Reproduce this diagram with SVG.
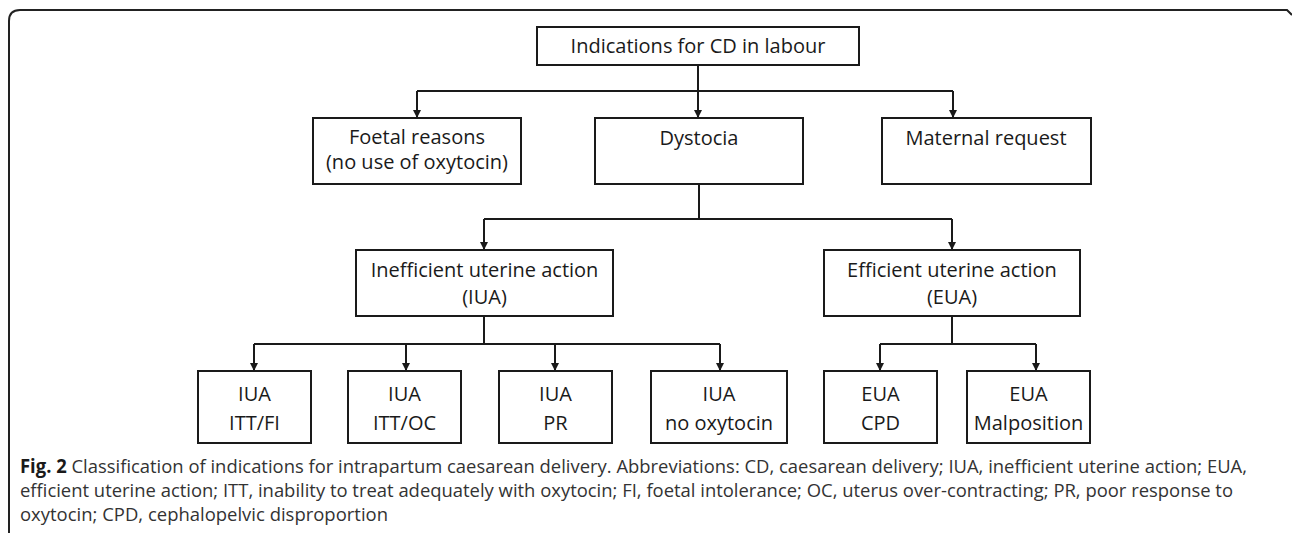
<svg xmlns="http://www.w3.org/2000/svg" width="1292" height="533" viewBox="0 0 1292 533">
<defs>
<marker id="arr" viewBox="0 0 10 10" refX="10" refY="5" markerWidth="8" markerHeight="8" markerUnits="userSpaceOnUse" orient="auto">
<path d="M0,0 L10,5 L0,10 Z" fill="#1a1a1a"/>
</marker>
<style>
.box{fill:#fff;stroke:#1a1a1a;stroke-width:2}
.t{font-family:"Open Sans","Noto Sans",sans-serif;font-size:20px;fill:#1a1a1a;text-anchor:middle}
.c{stroke:#1a1a1a;stroke-width:2;fill:none}
.a{marker-end:url(#arr)}
.cap{font-family:"Open Sans","Noto Sans",sans-serif;font-size:19px;fill:#333}
</style>
</defs>
<rect width="1292" height="533" fill="#fff"/>
<path d="M9,533 L9,21 Q9,10 20,10 L1287,10 L1292,15" fill="none" stroke="#222" stroke-width="2"/>
<g id="connectors">
<path class="c a" d="M698,65 V118"/>
<path class="c" d="M417,91 H953"/>
<path class="c a" d="M417,91 V118"/>
<path class="c a" d="M953,91 V118"/>
<path class="c" d="M699,184 V219 M484,219 H952"/>
<path class="c a" d="M484,219 V250"/>
<path class="c a" d="M952,219 V250"/>
<path class="c" d="M484,316 V344 M254,344 H720"/>
<path class="c a" d="M254,344 V371"/>
<path class="c a" d="M406,344 V371"/>
<path class="c a" d="M555,344 V371"/>
<path class="c a" d="M720,344 V371"/>
<path class="c" d="M952,316 V344 M880,344 H1036"/>
<path class="c a" d="M880,344 V371"/>
<path class="c a" d="M1036,344 V371"/>
</g>
<g id="root"><rect class="box" x="537" y="27" width="322" height="38"/><text class="t" x="698" y="53">Indications for CD in labour</text></g>
<g id="foetal"><rect class="box" x="313" y="118" width="208" height="66"/><text class="t" x="417" y="144">Foetal reasons</text><text class="t" x="417" y="169">(no use of oxytocin)</text></g>
<g id="dystocia"><rect class="box" x="595" y="118" width="208" height="66"/><text class="t" x="699" y="145">Dystocia</text></g>
<g id="maternal"><rect class="box" x="882" y="118" width="209" height="66"/><text class="t" x="986" y="145">Maternal request</text></g>
<g id="iua"><rect class="box" x="356" y="250" width="257" height="66"/><text class="t" x="484.5" y="277">Inefficient uterine action</text><text class="t" x="484.5" y="304">(IUA)</text></g>
<g id="eua"><rect class="box" x="824" y="250" width="256" height="66"/><text class="t" x="952" y="277">Efficient uterine action</text><text class="t" x="952" y="304">(EUA)</text></g>
<g id="iua-itt-fi"><rect class="box" x="198" y="371" width="113" height="72"/><text class="t" x="254.5" y="401">IUA</text><text class="t" x="254.5" y="430">ITT/FI</text></g>
<g id="iua-itt-oc"><rect class="box" x="348" y="371" width="113" height="72"/><text class="t" x="404.5" y="401">IUA</text><text class="t" x="404.5" y="430">ITT/OC</text></g>
<g id="iua-pr"><rect class="box" x="499" y="371" width="113" height="72"/><text class="t" x="555.5" y="401">IUA</text><text class="t" x="555.5" y="430">PR</text></g>
<g id="iua-no-oxy"><rect class="box" x="651" y="371" width="136" height="72"/><text class="t" x="719" y="401">IUA</text><text class="t" x="719" y="430">no oxytocin</text></g>
<g id="eua-cpd"><rect class="box" x="824" y="371" width="113" height="72"/><text class="t" x="880.5" y="401">EUA</text><text class="t" x="880.5" y="430">CPD</text></g>
<g id="eua-malpos"><rect class="box" x="967" y="371" width="123" height="72"/><text class="t" x="1028.5" y="401">EUA</text><text class="t" x="1028.5" y="430">Malposition</text></g>
<g id="caption">
<text class="cap" x="20" y="473" textLength="1227" lengthAdjust="spacingAndGlyphs"><tspan font-weight="bold" fill="#1a1a1a">Fig. 2</tspan> Classification of indications for intrapartum caesarean delivery. Abbreviations: CD, caesarean delivery; IUA, inefficient uterine action; EUA,</text>
<text class="cap" x="20" y="497" textLength="1213" lengthAdjust="spacingAndGlyphs">efficient uterine action; ITT, inability to treat adequately with oxytocin; FI, foetal intolerance; OC, uterus over-contracting; PR, poor response to</text>
<text class="cap" x="20" y="521" textLength="368" lengthAdjust="spacingAndGlyphs">oxytocin; CPD, cephalopelvic disproportion</text>
</g>
</svg>
